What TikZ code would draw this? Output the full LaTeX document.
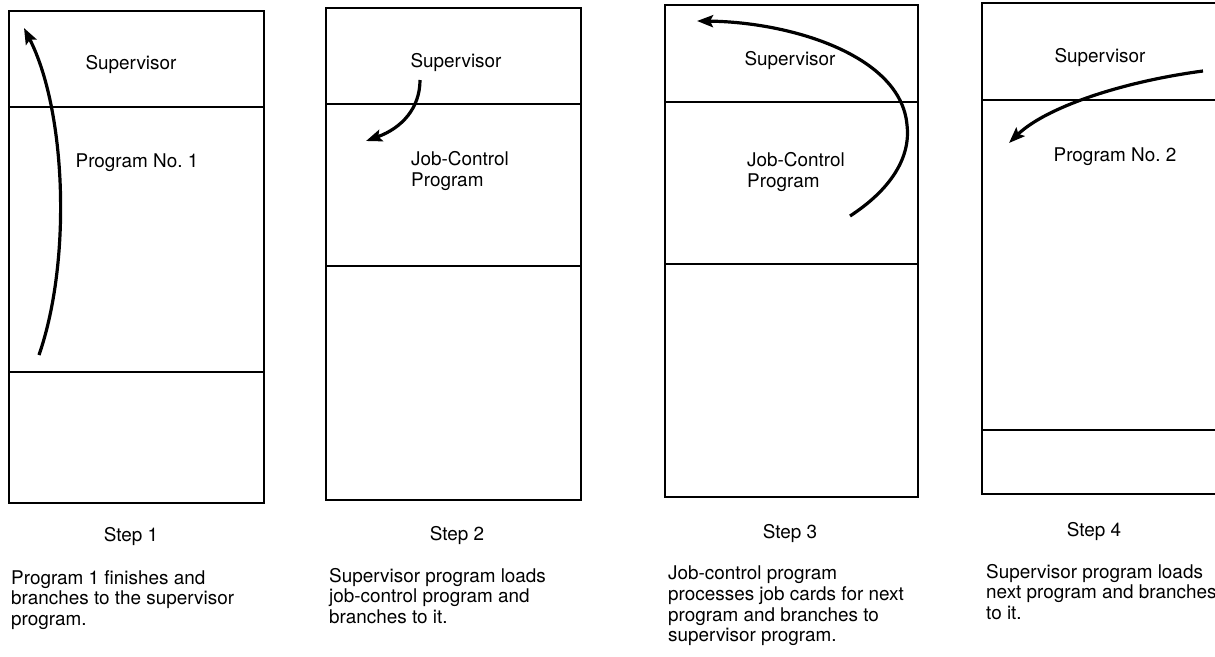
\documentclass[tikz,border=0pt]{standalone}
\usepackage{fontspec}
\setmainfont{TeX Gyre Heros}
\usetikzlibrary{arrows.meta}
\tikzset{
  memframe/.style={draw, line width=1.9pt},
  partline/.style={line width=1.5pt},
  flow/.style={line width=3.2pt, -{Stealth[length=16pt,width=12pt,inset=3pt]}},
  lbl/.style={inner sep=0pt, font=\fontsize{18.9}{20.6}\selectfont},
  desc/.style={lbl, anchor=north west, align=left}
}
\begin{document}
\begin{tikzpicture}[x=1pt,y=-1pt]
\useasboundingbox (0,0) rectangle (1215,656);
\clip (0,0) rectangle (1215,656);

% ---- Step 1 ----
\draw[memframe] (9,11) rectangle (264,503);
\draw[partline] (9,107) -- (264,107);
\draw[partline] (9,372) -- (264,372);
\node[lbl] (sup1) at (131,64) {Supervisor};
\node[lbl] (prog1) at (137,163) {Program No.\ 1};
\coordinate (a1s) at (39,355);
\coordinate (a1e) at (24,28);
\draw[flow] (a1s) .. controls (72,260) and (66,110) .. (a1e);
\node[lbl] (step1) at (131,536) {Step 1};
\node[desc] (d1) at (11,570) {Program 1 finishes and\\branches to the supervisor\\program.};

% ---- Step 2 ----
\draw[memframe] (326,8) rectangle (581,500);
\draw[partline] (326,104) -- (581,104);
\draw[partline] (326,266) -- (581,266);
\node[lbl] (sup2) at (456,62) {Supervisor};
\node[lbl, anchor=west, align=left] (jcp2) at (411,171) {Job-Control\\Program};
\coordinate (a2s) at (420,80);
\coordinate (a2e) at (366,141);
\draw[flow] (a2s) .. controls (420,108) and (402,128) .. (a2e);
\node[lbl] (step2) at (457,535) {Step 2};
\node[desc] (d2) at (329,568) {Supervisor program loads\\job-control program and\\branches to it.};

% ---- Step 3 ----
\draw[memframe] (665,5) rectangle (918,497);
\draw[partline] (665,102) -- (918,102);
\draw[partline] (665,264) -- (918,264);
\node[lbl] (sup3) at (790,60) {Supervisor};
\node[lbl, anchor=west, align=left] (jcp3) at (747,172) {Job-Control\\Program};
\coordinate (a3s) at (850,216);
\coordinate (a3m) at (907,125);
\coordinate (a3e) at (697,21);
\draw[flow] (a3s) .. controls (890,190) and (911,158) .. (a3m)
               .. controls (901,55) and (790,22) .. (a3e);
\node[lbl] (step3) at (790,533) {Step 3};
\node[desc] (d3) at (668,566) {Job-control program\\processes job cards for next\\program and branches to\\supervisor program.};

% ---- Step 4 ----
\draw[memframe] (982,3) rectangle (1222,494);
\draw[partline] (982,100) -- (1222,100);
\draw[partline] (982,430) -- (1222,430);
\node[lbl] (sup4) at (1100,57) {Supervisor};
\node[lbl] (prog2) at (1115,157) {Program No.\ 2};
\coordinate (a4s) at (1203,71);
\coordinate (a4e) at (1009,143);
\draw[flow] (a4s) .. controls (1120,82) and (1045,108) .. (a4e);
\node[lbl] (step4) at (1094,531) {Step 4};
\node[desc] (d4) at (986,564) {Supervisor program loads\\next program and branches\\to it.};
\end{tikzpicture}
\end{document}
